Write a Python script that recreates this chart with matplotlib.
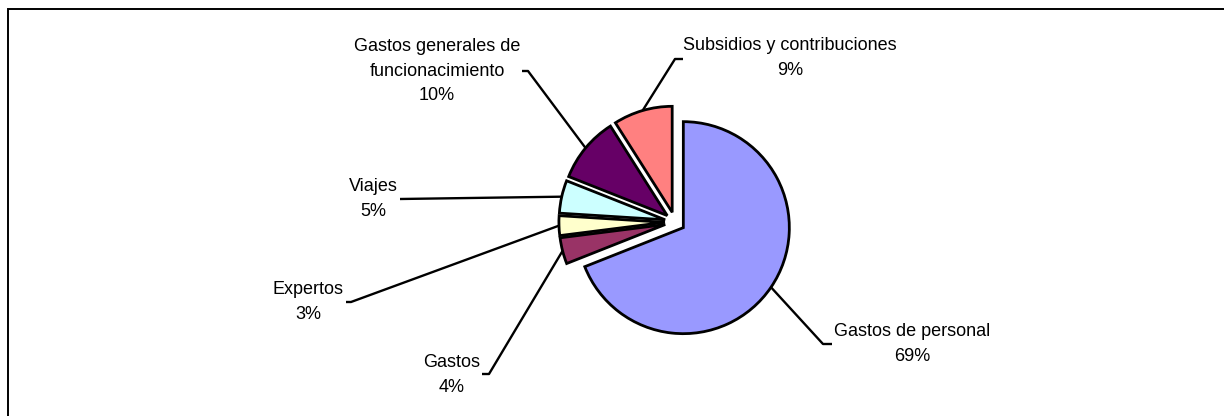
import numpy as np
import matplotlib
matplotlib.use("Agg")
import matplotlib.pyplot as plt
from matplotlib.patches import Rectangle

# datos del grafico (sentido horario desde las 12)
categories = ["Gastos de personal", "Gastos", "Expertos", "Viajes",
              "Gastos generales de\nfuncionacimiento", "Subsidios y contribuciones"]
values = [69, 4, 3, 5, 10, 9]
colors = ["#9999FF", "#993366", "#FFFFCC", "#CCFFFF", "#660066", "#FF8080"]
explode = [0.095, 0.095, 0.095, 0.095, 0.095, 0.095]

W, H = 1224, 416

# posicion de las etiquetas y del quiebre de la linea guia (pixeles, y hacia abajo)
labelPos = [(912, 344), (452, 375), (308, 302), (373, 199), (437, 71), (790, 58)]
leaderStart = [[(832, 344), (823, 344)],
               [(482, 374), (489, 374)],
               [(346, 302), (351, 302)],
               [(400, 199)],
               [(522, 71), (528, 71)],
               [(683, 59), (675, 59)]]


def flip(p):
    return (p[0], H - p[1])


plt.rcParams['font.family'] = ['Liberation Sans', 'DejaVu Sans']
fig = plt.figure(figsize=(W / 100, H / 100), dpi=100)
ax = fig.add_axes([0, 0, 1, 1])

center = flip((675, 222))
radius = 106
# pie() desplaza en unidades de datos, no en fraccion del radio
wedges, _ = ax.pie(values, colors=colors, explode=[e * radius for e in explode],
                   startangle=90, counterclock=False, center=center, radius=radius,
                   wedgeprops=dict(edgecolor='black', linewidth=2.0),
                   frame=True)
ax.set_xlim(0, W)
ax.set_ylim(0, H)
ax.set_aspect('equal')
ax.axis('off')

for i, w in enumerate(wedges):
    mid = np.deg2rad((w.theta1 + w.theta2) / 2)
    cx, cy = w.center
    rim = (cx + w.r * np.cos(mid), cy + w.r * np.sin(mid))
    pts = [flip(p) for p in leaderStart[i]] + [rim]
    xs, ys = zip(*pts)
    ax.plot(xs, ys, color='black', linewidth=1.7, solid_capstyle='butt', zorder=0)
    lx, ly = flip(labelPos[i])
    ax.text(lx, ly, f"{categories[i]}\n{values[i]}%", ha='center', va='center',
            fontsize=13, linespacing=1.6)

ax.add_patch(Rectangle((8, -10), W + 10, H - 9 + 10, fill=False,
                       edgecolor='black', linewidth=1.4, clip_on=False))

fig.savefig("out.png", dpi=100)
